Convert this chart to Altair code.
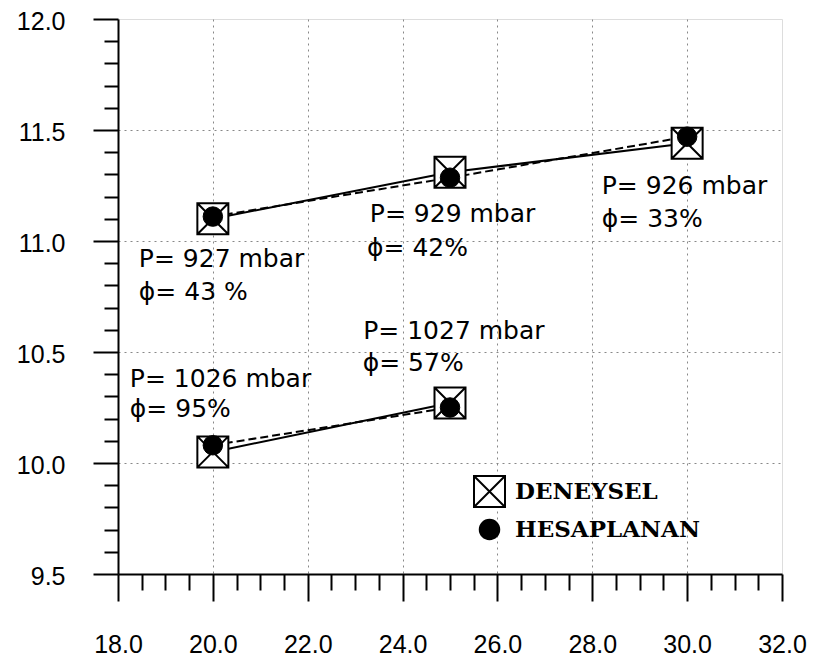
import altair as alt
import pandas as pd

# --- data ---
sicaklik = [20, 25, 30, 20, 25]            # x values
deneysel = [11.10, 11.31, 11.44, 10.05, 10.27]
hesaplanan = [11.11, 11.285, 11.47, 10.08, 10.25]
grup = ["ust", "ust", "ust", "alt", "alt"]

seri_adlari = ["DENEYSEL", "HESAPLANAN"]

ann_text = ["P= 927 mbar", "ϕ= 43 %", "P= 929 mbar", "ϕ= 42%",
            "P= 926 mbar", "ϕ= 33%", "P= 1027 mbar", "ϕ= 57%",
            "P= 1026 mbar", "ϕ= 95%"]
ann_x = [18.44, 18.44, 23.31, 23.25, 28.20, 28.20, 23.17, 23.16, 18.25, 18.25]
ann_y = [10.92, 10.772, 11.12, 10.97, 11.247, 11.10, 10.593, 10.45, 10.378, 10.244]

x_major = [18, 20, 22, 24, 26, 28, 30, 32]
x_minor = [18.5, 19, 19.5, 20.5, 21, 21.5, 22.5, 23, 23.5, 24.5, 25, 25.5,
           26.5, 27, 27.5, 28.5, 29, 29.5, 30.5, 31, 31.5]
y_major = [9.5, 10.0, 10.5, 11.0, 11.5, 12.0]
y_minor = [round(9.5 + 0.1 * i, 1) for i in range(26) if i % 5 != 0]

rows = []
for xv, e, h, g in zip(sicaklik, deneysel, hesaplanan, grup):
    rows.append({"x": xv, "y": e, "seri": "DENEYSEL", "grup": g})
    rows.append({"x": xv, "y": h, "seri": "HESAPLANAN", "grup": g})
df = pd.DataFrame(rows)
ann = pd.DataFrame({"t": ann_text, "x": ann_x, "y": ann_y})

xs = alt.Scale(domain=[18, 32], nice=False, zero=False)
ys = alt.Scale(domain=[9.5, 12.0], nice=False, zero=False)

grid_hide_x = {"condition": {"test": "datum.value == 18 || datum.value == 32", "value": 0}, "value": 1}
grid_hide_y = {"condition": {"test": "datum.value == 9.5 || datum.value == 12", "value": 0}, "value": 1}

x_major_axis = alt.Axis(values=x_major, format=".1f", orient="bottom", title=None,
                        tickSize=27, tickWidth=2, tickColor="black",
                        domainColor="black", domainWidth=2,
                        labelFont="Liberation Sans", labelFontSize=25, labelColor="black",
                        labelPadding=31, labelFlush=False, labelOverlap=False,
                        grid=True, gridColor="#888888", gridDash=[2, 4], gridWidth=1,
                        gridOpacity=grid_hide_x)
y_major_axis = alt.Axis(values=y_major, format=".1f", orient="left", title=None,
                        tickSize=25, tickWidth=2, tickColor="black",
                        domainColor="black", domainWidth=2,
                        labelFont="Liberation Sans", labelFontSize=25, labelColor="black",
                        labelPadding=28, labelOffset=2, labelFlush=False, labelOverlap=False,
                        grid=True, gridColor="#888888", gridDash=[2, 4], gridWidth=1,
                        gridOpacity=grid_hide_y)
x_minor_axis = alt.Axis(values=x_minor, orient="bottom", title=None, labels=False,
                        tickSize=16, tickWidth=2, tickColor="black", domain=False, grid=False)
y_minor_axis = alt.Axis(values=y_minor, orient="left", title=None, labels=False,
                        tickSize=14, tickWidth=2, tickColor="black", domain=False, grid=False)

square_x = "M-1,-1H1V1H-1ZM-1,-1L1,1M-1,1L1,-1"

legend = alt.Legend(title=None, orient="none", legendX=355, legendY=456,
                    labelFont="DejaVu Serif", labelFontWeight="bold",
                    labelFontSize=23, labelColor="black", labelOffset=9, labelLimit=400,
                    rowPadding=4, padding=0,
                    symbolStrokeColor="black", symbolStrokeWidth=2)

shape_enc = alt.Shape("seri:N", scale=alt.Scale(domain=seri_adlari, range=[square_x, "circle"]), legend=legend)
fill_enc = alt.Fill("seri:N", scale=alt.Scale(domain=seri_adlari, range=["white", "black"]), legend=legend)
stroke_enc = alt.Stroke("seri:N", scale=alt.Scale(domain=seri_adlari, range=["black", "black"]), legend=legend)
size_enc = alt.Size("seri:N", scale=alt.Scale(domain=seri_adlari, range=[961, 380]), legend=legend)

solid_line = alt.Chart(df).transform_filter(alt.datum.seri == "DENEYSEL").mark_line(
    color="black", strokeWidth=2
).encode(
    x=alt.X("x:Q", scale=xs, axis=x_minor_axis),
    y=alt.Y("y:Q", scale=ys, axis=y_minor_axis),
    detail="grup:N",
    order="x:Q",
)

dashed_line = alt.Chart(df).transform_filter(alt.datum.seri == "HESAPLANAN").mark_line(
    color="black", strokeWidth=2, strokeDash=[8, 4]
).encode(
    x=alt.X("x:Q", scale=xs, axis=None),
    y=alt.Y("y:Q", scale=ys, axis=None),
    detail="grup:N",
    order="x:Q",
)

squares = alt.Chart(df).transform_filter(alt.datum.seri == "DENEYSEL").mark_point(
    filled=True, strokeWidth=2, opacity=1
).encode(
    x=alt.X("x:Q", scale=xs, axis=x_major_axis),
    y=alt.Y("y:Q", scale=ys, axis=y_major_axis),
    shape=shape_enc, fill=fill_enc, stroke=stroke_enc, size=size_enc,
)

circles = alt.Chart(df).transform_filter(alt.datum.seri == "HESAPLANAN").mark_point(
    filled=True, strokeWidth=1, opacity=1
).encode(
    x=alt.X("x:Q", scale=xs, axis=None),
    y=alt.Y("y:Q", scale=ys, axis=None),
    shape=shape_enc, fill=fill_enc, stroke=stroke_enc, size=size_enc,
)

texts = alt.Chart(ann).mark_text(align="left", baseline="middle", font="DejaVu Sans",
                                 fontSize=25, color="black").encode(
    x=alt.X("x:Q", scale=xs, axis=None),
    y=alt.Y("y:Q", scale=ys, axis=None),
    text="t:N",
)

chart = alt.layer(solid_line, dashed_line, squares, circles, texts).resolve_axis(
    x="independent", y="independent"
).properties(
    width=664, height=555,
    autosize=alt.AutoSizeParams(type="none"),
    padding={"left": 110, "top": 11, "right": 25, "bottom": 82},
).configure_view(stroke="black", strokeWidth=2).configure(background="white")

chart.save("out.html", embed_options={"renderer": "svg", "actions": False})
